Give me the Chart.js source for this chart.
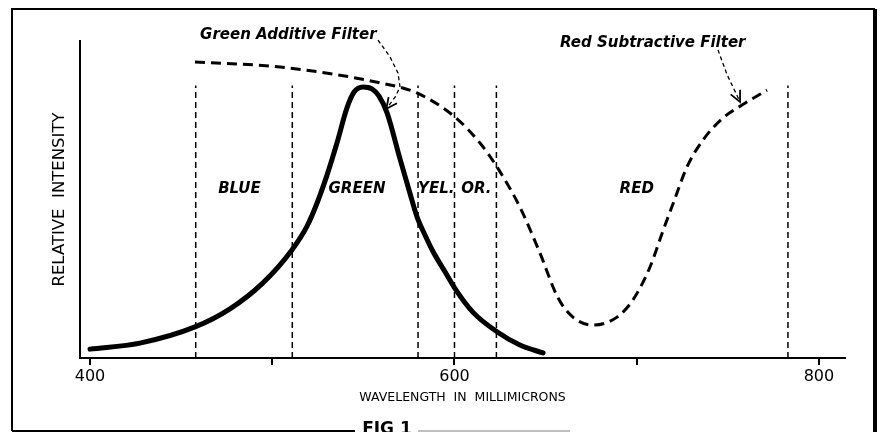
<!DOCTYPE html>
<html>
<head>
<meta charset="utf-8">
<script src="https://cdn.jsdelivr.net/npm/chart.js@4.4.1/dist/chart.umd.min.js"></script>
<style>
  html, body { margin: 0; padding: 0; background: #fff; }
  #wrap { width: 882px; height: 432px; }
</style>
</head>
<body>
<div id="wrap"><canvas id="fig"></canvas></div>
<script>
// wavelength (millimicrons) and relative intensity
var greenWave = [400, 427.4, 457.6, 476.8, 494.9, 510.8, 519.1, 524.6, 530, 535.5, 541, 544.9, 549.8, 554.7, 558.6, 563, 570.1, 575.6, 579.4, 583.8, 588.2, 594.8, 600.3, 610.2, 623.3, 635.9, 648.6];
var greenInt  = [2.8, 4.7, 9.8, 15.5, 23.7, 34.1, 41.6, 48.9, 57.6, 67.8, 78.9, 83.9, 85.5, 84.9, 82.6, 77.3, 62.8, 51.9, 44.6, 38.8, 33.6, 27.2, 21.9, 14.4, 8.3, 4.1, 1.6];

var redWave = [457.6, 504.3, 559.1, 579.4, 600.3, 614, 623.3, 635.9, 646.9, 656.8, 665, 676, 689.2, 697.9, 707.3, 714.4, 719.9, 727.6, 736.4, 747.3, 757.8, 771.5];
var redInt  = [93.4, 91.8, 86.8, 83.6, 76, 67.8, 60.3, 47.6, 33.1, 19, 12.9, 10.4, 12.9, 18.3, 28.7, 40.1, 48.6, 60.3, 68.8, 75.7, 79.8, 84.5];

// colour band boundaries
var bandEdges = [458, 511, 580, 600, 623, 783];
var bandTop = 86;
var bandNames = ['BLUE', 'GREEN', 'YEL.', 'OR.', 'RED'];
var bandNameWave = [482, 546.5, 590, 612, 700];

var tickWave = [400, 500, 600, 700, 800];
var tickLabels = ['400', '', '600', '', '800'];

function toPoints(xs, ys) {
  return xs.map(function(x, i) { return { x: x, y: ys[i] }; });
}

var datasets = [];
bandEdges.forEach(function(e) {
  datasets.push({
    data: [{ x: e, y: 0 }, { x: e, y: bandTop }],
    borderColor: '#000',
    borderWidth: 1.5,
    borderDash: [6, 4],
    pointRadius: 0,
    tension: 0
  });
});
datasets.push({
  label: 'Red Subtractive Filter',
  data: toPoints(redWave, redInt),
  borderColor: '#000',
  borderWidth: 3,
  borderDash: [10, 6],
  pointRadius: 0,
  cubicInterpolationMode: 'monotone'
});
datasets.push({
  label: 'Green Additive Filter',
  data: toPoints(greenWave, greenInt),
  borderColor: '#000',
  borderWidth: 5,
  borderCapStyle: 'round',
  pointRadius: 0,
  cubicInterpolationMode: 'monotone'
});

// annotation arrows, in data units
var greenArrow = [[558, 100.3], [564.6, 95], [569, 89.9], [570.1, 85.5], [567.4, 82.3], [562.6, 78.6]];
var redArrow = [[744.6, 97.2], [749.5, 89.5], [756.7, 80.8]];

var annotate = {
  id: 'annotate',
  afterDraw: function(chart) {
    var ctx = chart.ctx;
    var xs = chart.scales.x, ys = chart.scales.y;
    function px(p) { return [xs.getPixelForValue(p[0]), ys.getPixelForValue(p[1])]; }

    ctx.save();
    ctx.fillStyle = '#000';
    ctx.strokeStyle = '#000';

    // band names
    ctx.font = 'italic bold 15px "DejaVu Sans"';
    ctx.textAlign = 'center';
    ctx.textBaseline = 'middle';
    bandNames.forEach(function(n, i) {
      var p = px([bandNameWave[i], 53.3]);
      ctx.fillText(n, p[0], p[1]);
    });

    // filter captions
    ctx.textAlign = 'left';
    var g = px([460.4, 101.9]);
    ctx.fillText('Green Additive Filter', g[0], g[1]);
    var r = px([657.9, 99.4]);
    ctx.fillText('Red Subtractive Filter', r[0], r[1]);

    function arrow(path) {
      var pts = path.map(px);
      ctx.lineWidth = 1.3;
      ctx.setLineDash([4, 3]);
      ctx.beginPath();
      pts.forEach(function(p, i) { if (i === 0) ctx.moveTo(p[0], p[1]); else ctx.lineTo(p[0], p[1]); });
      ctx.stroke();
      ctx.setLineDash([]);
      var a = pts[pts.length - 2], b = pts[pts.length - 1];
      var ang = Math.atan2(b[1] - a[1], b[0] - a[0]);
      ctx.lineWidth = 1.8;
      ctx.beginPath();
      ctx.moveTo(b[0] - 12 * Math.cos(ang - 0.45), b[1] - 12 * Math.sin(ang - 0.45));
      ctx.lineTo(b[0], b[1]);
      ctx.lineTo(b[0] - 12 * Math.cos(ang + 0.45), b[1] - 12 * Math.sin(ang + 0.45));
      ctx.stroke();
    }
    arrow(greenArrow);
    arrow(redArrow);

    // figure frame
    ctx.lineWidth = 2;
    ctx.beginPath();
    ctx.moveTo(12, 431); ctx.lineTo(12, 9); ctx.lineTo(875, 9);
    ctx.moveTo(12, 431); ctx.lineTo(355, 431);
    ctx.stroke();
    ctx.lineWidth = 4;
    ctx.beginPath();
    ctx.moveTo(875, 9); ctx.lineTo(875, 432);
    ctx.stroke();
    ctx.strokeStyle = '#aaa';
    ctx.lineWidth = 1.5;
    ctx.beginPath();
    ctx.moveTo(418, 431); ctx.lineTo(570, 431);
    ctx.stroke();

    ctx.font = 'bold 17px "DejaVu Sans"';
    ctx.textAlign = 'center';
    ctx.textBaseline = 'top';
    ctx.fillText('FIG 1', 387, 421);
    ctx.restore();
  }
};

new Chart(document.getElementById('fig'), {
  type: 'line',
  data: { datasets: datasets },
  plugins: [annotate],
  options: {
    responsive: true,
    maintainAspectRatio: false,
    animation: false,
    layout: { padding: { top: 41, right: 37, left: 0, bottom: 0 } },
    plugins: { legend: { display: false }, tooltip: { enabled: false } },
    scales: {
      x: {
        type: 'linear',
        min: 394.5,
        max: 814.3,
        afterBuildTicks: function(s) { s.ticks = tickWave.map(function(v) { return { value: v }; }); },
        afterFit: function(s) { s.height = 74; },
        ticks: {
          color: '#000',
          padding: 2,
          maxRotation: 0,
          font: { family: 'DejaVu Sans', size: 16 },
          callback: function(v) { return tickLabels[tickWave.indexOf(v)]; }
        },
        grid: { drawOnChartArea: false, drawTicks: true, tickLength: 7, color: '#000', lineWidth: 2 },
        border: { display: true, color: '#000', width: 2 },
        title: {
          display: true,
          text: 'WAVELENGTH  IN  MILLIMICRONS',
          color: '#000',
          font: { family: 'DejaVu Sans', size: 12.5 },
          padding: { top: 0, bottom: 26.5 }
        }
      },
      y: {
        min: 0,
        max: 100,
        afterFit: function(s) { s.width = 80; },
        ticks: { display: false },
        grid: { display: false },
        border: { display: true, color: '#000', width: 2 },
        title: {
          display: true,
          text: 'RELATIVE  INTENSITY',
          color: '#000',
          font: { family: 'DejaVu Sans', size: 16.5 },
          padding: { top: 50, bottom: 0 }
        }
      }
    }
  }
});
</script>
</body>
</html>
